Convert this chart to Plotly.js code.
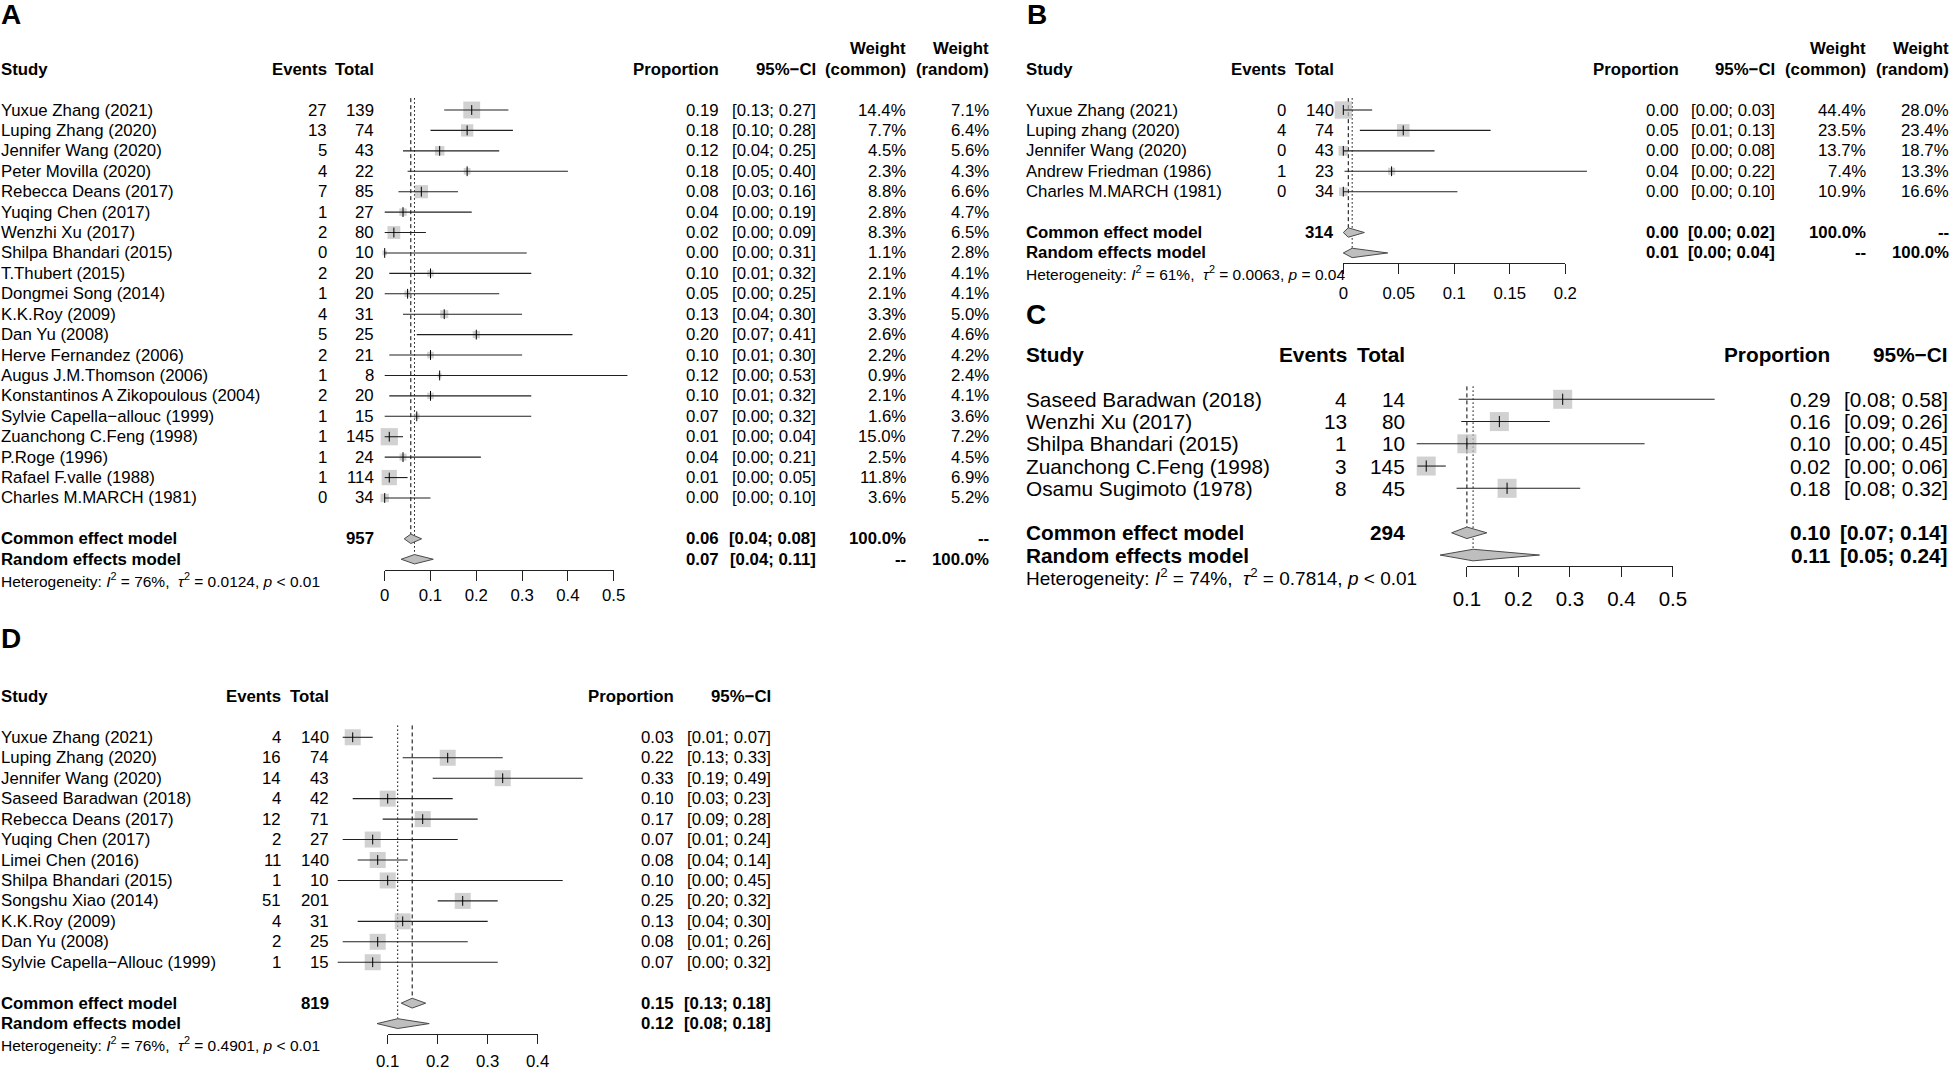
<!DOCTYPE html>
<html><head><meta charset="utf-8">
<script src="https://cdn.plot.ly/plotly-3.0.1.min.js"></script>
<style>html,body{margin:0;padding:0;background:#fff;} #chart{width:1949px;height:1071px;}</style>
</head><body><div id="chart"></div>
<script>
// ---------------- Panel A data ----------------
const studiesA = ["Yuxue Zhang (2021)","Luping Zhang (2020)","Jennifer Wang (2020)","Peter Movilla (2020)","Rebecca Deans (2017)","Yuqing Chen (2017)","Wenzhi Xu (2017)","Shilpa Bhandari (2015)","T.Thubert (2015)","Dongmei Song (2014)","K.K.Roy (2009)","Dan Yu (2008)","Herve Fernandez (2006)","Augus J.M.Thomson (2006)","Konstantinos A Zikopoulous (2004)","Sylvie Capella\u2212allouc (1999)","Zuanchong C.Feng (1998)","P.Roge (1996)","Rafael F.valle (1988)","Charles M.MARCH (1981)"];
const eventsA = [27,13,5,4,7,1,2,0,2,1,4,5,2,1,2,1,1,1,1,0];
const totalsA = [139,74,43,22,85,27,80,10,20,20,31,25,21,8,20,15,145,24,114,34];
const propA  = [0.19,0.18,0.12,0.18,0.08,0.04,0.02,0.00,0.10,0.05,0.13,0.20,0.10,0.12,0.10,0.07,0.01,0.04,0.01,0.00];
const lowerA = [0.13,0.10,0.04,0.05,0.03,0.00,0.00,0.00,0.01,0.00,0.04,0.07,0.01,0.00,0.01,0.00,0.00,0.00,0.00,0.00];
const upperA = [0.27,0.28,0.25,0.40,0.16,0.19,0.09,0.31,0.32,0.25,0.30,0.41,0.30,0.53,0.32,0.32,0.04,0.21,0.05,0.10];
const wCommonA = [14.4,7.7,4.5,2.3,8.8,2.8,8.3,1.1,2.1,2.1,3.3,2.6,2.2,0.9,2.1,1.6,15.0,2.5,11.8,3.6];
const wRandomA = [7.1,6.4,5.6,4.3,6.6,4.7,6.5,2.8,4.1,4.1,5.0,4.6,4.2,2.4,4.1,3.6,7.2,4.5,6.9,5.2];
const totalCommonA = 957;
const summaryEstA = [0.057, 0.065];     // common, random
const summaryLowerA = [0.0426, 0.036];
const summaryUpperA = [0.0806, 0.106];
const hetA = ["76%", "0.0124", "< 0.01"];
const ticksA = [0, 0.1, 0.2, 0.3, 0.4, 0.5];
const tickLabelsA = ["0","0.1","0.2","0.3","0.4","0.5"];

// ---------------- Panel B data ----------------
const studiesB = ["Yuxue Zhang (2021)","Luping zhang (2020)","Jennifer Wang (2020)","Andrew Friedman (1986)","Charles M.MARCH (1981)"];
const eventsB = [0,4,0,1,0];
const totalsB = [140,74,43,23,34];
const propB  = [0.000,0.054,0.000,0.0435,0.000];
const lowerB = [0.000,0.0149,0.000,0.0011,0.000];
const upperB = [0.026,0.1327,0.0822,0.2195,0.1028];
const wCommonB = [44.4,23.5,13.7,7.4,10.9];
const wRandomB = [28.0,23.4,18.7,13.3,16.6];
const totalCommonB = 314;
const summaryEstB = [0.0045, 0.008];
const summaryLowerB = [0.0, 0.0];
const summaryUpperB = [0.019, 0.04];
const hetB = ["61%", "0.0063", "= 0.04"];
const ticksB = [0, 0.05, 0.1, 0.15, 0.2];
const tickLabelsB = ["0","0.05","0.1","0.15","0.2"];

// ---------------- Panel C data ----------------
const studiesC = ["Saseed Baradwan (2018)","Wenzhi Xu (2017)","Shilpa Bhandari (2015)","Zuanchong C.Feng (1998)","Osamu Sugimoto (1978)"];
const eventsC = [4,13,1,3,8];
const totalsC = [14,80,10,145,45];
const propC  = [0.286,0.163,0.10,0.021,0.178];
const lowerC = [0.084,0.089,0.0025,0.004,0.080];
const upperC = [0.581,0.261,0.445,0.059,0.32];
const totalCommonC = 294;
const summaryEstC = [0.10, 0.112];
const summaryLowerC = [0.0703, 0.048];
const summaryUpperC = [0.1387, 0.241];
const hetC = ["74%", "0.7814", "< 0.01"];
const ticksC = [0.1, 0.2, 0.3, 0.4, 0.5];
const tickLabelsC = ["0.1","0.2","0.3","0.4","0.5"];

// ---------------- Panel D data ----------------
const studiesD = ["Yuxue Zhang (2021)","Luping Zhang (2020)","Jennifer Wang (2020)","Saseed Baradwan (2018)","Rebecca Deans (2017)","Yuqing Chen (2017)","Limei Chen (2016)","Shilpa Bhandari (2015)","Songshu Xiao (2014)","K.K.Roy (2009)","Dan Yu (2008)","Sylvie Capella\u2212Allouc (1999)"];
const eventsD = [4,16,14,4,12,2,11,1,51,4,2,1];
const totalsD = [140,74,43,42,71,27,140,10,201,31,25,15];
const propD  = [0.03,0.22,0.33,0.10,0.17,0.07,0.08,0.10,0.25,0.13,0.08,0.07];
const lowerD = [0.01,0.13,0.19,0.03,0.09,0.01,0.04,0.00,0.20,0.04,0.01,0.00];
const upperD = [0.07,0.33,0.49,0.23,0.28,0.24,0.14,0.45,0.32,0.30,0.26,0.32];
const totalCommonD = 819;
const summaryEstD = [0.149, 0.12];
const summaryLowerD = [0.127, 0.0786];
const summaryUpperD = [0.176, 0.183];
const hetD = ["76%", "0.4901", "< 0.01"];
const ticksD = [0.1, 0.2, 0.3, 0.4];
const tickLabelsD = ["0.1","0.2","0.3","0.4"];

// ---------------- rendering ----------------
const W = 1949, H = 1071;
const FONT = 'Liberation Sans, Arial, Helvetica, sans-serif';
const fmt2 = v => (Math.round(v * 100 + 1e-9) / 100).toFixed(2);
const fmtCI = (lo, hi) => '[' + fmt2(lo) + '; ' + fmt2(hi) + ']';
const fmtW = w => w.toFixed(1) + '%';
const axKey = id => id.charAt(0) + 'axis' + id.slice(1);

const panels = [
  { d: {studies:studiesA, events:eventsA, totals:totalsA, prop:propA, lower:lowerA, upper:upperA, wCommon:wCommonA, wRandom:wRandomA, totalCommon:totalCommonA, sumEst:summaryEstA, sumLo:summaryLowerA, sumHi:summaryUpperA, het:hetA, ticks:ticksA, tickLabels:tickLabelsA},
    L: {label:'A', labelX:0, labelY:15, x:'x', y:'y', xt:'x2', nameX:0, eventsR:328, totalR:375, propR:720, ciR:817, wcR:907, wrR:990,
        y0:110, dy:20.42, yTop:30, yBot:612, xDom:[372,640], x0:384.7, scale:458, axisY:570, tickLen:10, standoff:0,
        font:16.8, hetFont:15.5, tickFont:16.8, sq:w=>4.45*Math.sqrt(w), tick:7, dh:0.23} },
  { d: {studies:studiesB, events:eventsB, totals:totalsB, prop:propB, lower:lowerB, upper:upperB, wCommon:wCommonB, wRandom:wRandomB, totalCommon:totalCommonB, sumEst:summaryEstB, sumLo:summaryLowerB, sumHi:summaryUpperB, het:hetB, ticks:ticksB, tickLabels:tickLabelsB},
    L: {label:'B', labelX:1026, labelY:15, x:'x3', y:'y2', xt:'x4', nameX:1025, eventsR:1287, totalR:1335, propR:1680, ciR:1776, wcR:1867, wrR:1950,
        y0:110, dy:20.42, yTop:30, yBot:300, xDom:[1328,1600], x0:1343.3, scale:1110, axisY:262.7, tickLen:10, standoff:5,
        font:16.8, hetFont:15.5, tickFont:16.8, sq:w=>2.6*Math.sqrt(w), tick:7, dh:0.23} },
  { d: {studies:studiesC, events:eventsC, totals:totalsC, prop:propC, lower:lowerC, upper:upperC, totalCommon:totalCommonC, sumEst:summaryEstC, sumLo:summaryLowerC, sumHi:summaryUpperC, het:hetC, ticks:ticksC, tickLabels:tickLabelsC},
    L: {label:'C', labelX:1025, labelY:314, x:'x5', y:'y3', xt:'x6', nameX:1025, eventsR:1347.5, totalR:1406.4, propR:1830.5, ciR:1948.5,
        y0:399.3, dy:22.25, yTop:340, yBot:612, xDom:[1405,1725], x0:1415.4, scale:515, axisY:566, tickLen:10, standoff:4,
        font:20.8, hetFont:19, tickFont:20.5, sq:()=>19, tick:8, dh:0.26} },
  { d: {studies:studiesD, events:eventsD, totals:totalsD, prop:propD, lower:lowerD, upper:upperD, totalCommon:totalCommonD, sumEst:summaryEstD, sumLo:summaryLowerD, sumHi:summaryUpperD, het:hetD, ticks:ticksD, tickLabels:tickLabelsD},
    L: {label:'D', labelX:0, labelY:638, x:'x7', y:'y4', xt:'x8', nameX:0, eventsR:282.4, totalR:330, propR:675, ciR:771.7,
        y0:737.3, dy:20.45, yTop:680, yBot:1071, xDom:[325,600], x0:337.7, scale:500, axisY:1034, tickLen:9, standoff:3,
        font:16.8, hetFont:15.5, tickFont:16.8, sq:()=>16, tick:7, dh:0.24} }
];

const traces = [], anns = [];
const layout = {
  width: W, height: H, autosize: false,
  margin: {l:0, r:0, t:0, b:0, pad:0},
  paper_bgcolor: '#ffffff', plot_bgcolor: 'rgba(0,0,0,0)',
  font: {family: FONT, color: '#000'},
  showlegend: false, hovermode: false
};

function buildPanel(d, L) {
  const n = d.studies.length;
  const rows = d.studies.map((s, i) => i);
  const kc = n + 1, kr = n + 2, kh = n + 3;
  const refTop = -0.58;

  layout[axKey(L.x)] = {domain:[L.xDom[0]/W, L.xDom[1]/W], range:[(L.xDom[0]-L.x0)/L.scale, (L.xDom[1]-L.x0)/L.scale],
                        anchor:L.y, visible:false, fixedrange:true, showgrid:false, zeroline:false};
  layout[axKey(L.y)] = {domain:[1-L.yBot/H, 1-L.yTop/H], range:[(L.yBot-L.y0)/L.dy, (L.yTop-L.y0)/L.dy],
                        anchor:L.x, visible:false, fixedrange:true, showgrid:false, zeroline:false};
  const t0 = d.ticks[0], t1 = d.ticks[d.ticks.length-1];
  layout[axKey(L.xt)] = {domain:[(L.x0+t0*L.scale)/W, (L.x0+t1*L.scale)/W], range:[t0, t1],
    anchor:'free', position:1-L.axisY/H, side:'bottom', showline:true, linecolor:'#222', linewidth:1,
    ticks:'outside', ticklen:L.tickLen, tickwidth:1, tickcolor:'#222', tickmode:'array',
    tickvals:d.ticks, ticktext:d.tickLabels, tickfont:{family:FONT, size:L.tickFont, color:'#000'},
    ticklabelstandoff:L.standoff, showgrid:false, zeroline:false, fixedrange:true};

  const base = {type:'scatter', xaxis:L.x, yaxis:L.y, hoverinfo:'skip', showlegend:false};
  // reference lines (common: dashed, random: dotted)
  traces.push(Object.assign({}, base, {mode:'lines', x:[d.sumEst[0], d.sumEst[0]], y:[refTop, kc - L.dh],
    line:{color:'#000', width:1, dash:'4px,3px'}}));
  traces.push(Object.assign({}, base, {mode:'lines', x:[d.sumEst[1], d.sumEst[1]], y:[refTop, kr - L.dh],
    line:{color:'#000', width:1, dash:'1.5px,2.5px'}}));
  // squares
  const sizes = d.wCommon ? d.wCommon.map(L.sq) : d.prop.map(() => L.sq());
  traces.push(Object.assign({}, base, {mode:'markers', x:d.prop, y:rows, cliponaxis:false,
    marker:{symbol:'square', size:sizes, color:'#BEBEBE', line:{width:0}}}));
  // CI lines
  const cx = [], cy = [];
  d.lower.forEach((lo, i) => { cx.push(lo, d.upper[i], null); cy.push(i, i, null); });
  traces.push(Object.assign({}, base, {mode:'lines', x:cx, y:cy, line:{color:'#202020', width:1.1}}));
  // point estimate ticks
  traces.push(Object.assign({}, base, {mode:'markers', x:d.prop, y:rows, cliponaxis:false,
    marker:{symbol:'line-ns', size:L.tick, color:'#000', line:{color:'#000', width:1}}}));
  // diamonds
  [kc, kr].forEach((k, j) => {
    const e = d.sumEst[j], lo = d.sumLo[j], hi = d.sumHi[j];
    traces.push(Object.assign({}, base, {mode:'lines', x:[lo, e, hi, e, lo], y:[k, k-L.dh, k, k+L.dh, k],
      fill:'toself', fillcolor:'#BEBEBE', line:{color:'#4a4a4a', width:1}}));
  });
  // carrier trace for the tick axis
  traces.push({type:'scatter', mode:'markers', x:[t0], y:[0], xaxis:L.xt, yaxis:L.y,
    marker:{opacity:0, size:1}, hoverinfo:'skip', showlegend:false});

  // text
  const T = (text, xpx, k, anchor, size, bold) => anns.push({
    text: bold ? '<b>' + text + '</b>' : text, x: xpx / W, xref:'paper', y:k, yref:L.y,
    xanchor:anchor, yanchor:'middle', showarrow:false, borderpad:0,
    font:{family:FONT, size:size, color:'#000'}});
  const f = L.font;
  T('Study', L.nameX, -2, 'left', f, true);
  T('Events', L.eventsR, -2, 'right', f, true);
  T('Total', L.totalR, -2, 'right', f, true);
  T('Proportion', L.propR, -2, 'right', f, true);
  T('95%\u2212CI', L.ciR, -2, 'right', f, true);
  if (d.wCommon) {
    T('Weight', L.wcR, -3, 'right', f, true);
    T('(common)', L.wcR, -2, 'right', f, true);
    T('Weight', L.wrR, -3, 'right', f, true);
    T('(random)', L.wrR, -2, 'right', f, true);
  }
  d.studies.forEach((s, i) => {
    T(s, L.nameX, i, 'left', f, false);
    T(String(d.events[i]), L.eventsR, i, 'right', f, false);
    T(String(d.totals[i]), L.totalR, i, 'right', f, false);
    T(fmt2(d.prop[i]), L.propR, i, 'right', f, false);
    T(fmtCI(d.lower[i], d.upper[i]), L.ciR, i, 'right', f, false);
    if (d.wCommon) {
      T(fmtW(d.wCommon[i]), L.wcR, i, 'right', f, false);
      T(fmtW(d.wRandom[i]), L.wrR, i, 'right', f, false);
    }
  });
  T('Common effect model', L.nameX, kc, 'left', f, true);
  T(String(d.totalCommon), L.totalR, kc, 'right', f, true);
  T(fmt2(d.sumEst[0]), L.propR, kc, 'right', f, true);
  T(fmtCI(d.sumLo[0], d.sumHi[0]), L.ciR, kc, 'right', f, true);
  T('Random effects model', L.nameX, kr, 'left', f, true);
  T(fmt2(d.sumEst[1]), L.propR, kr, 'right', f, true);
  T(fmtCI(d.sumLo[1], d.sumHi[1]), L.ciR, kr, 'right', f, true);
  if (d.wCommon) {
    T('100.0%', L.wcR, kc, 'right', f, true);
    T('--', L.wrR, kc, 'right', f, true);
    T('--', L.wcR, kr, 'right', f, true);
    T('100.0%', L.wrR, kr, 'right', f, true);
  }
  T('Heterogeneity: <i>I</i><sup>2</sup> = ' + d.het[0] + ',  <i>\u03c4</i><sup>2</sup> = ' + d.het[1] +
    ', <i>p</i> ' + d.het[2].replace('<', '&lt;'), L.nameX, kh, 'left', L.hetFont, false);

  anns.push({text:'<b>' + L.label + '</b>', x:L.labelX / W, xref:'paper', y:1 - L.labelY / H, yref:'paper',
    xanchor:'left', yanchor:'middle', showarrow:false, borderpad:0, font:{family:FONT, size:28, color:'#000'}});
}

panels.forEach(p => buildPanel(p.d, p.L));
layout.annotations = anns;
Plotly.newPlot('chart', traces, layout, {staticPlot:true, displayModeBar:false});
</script>
</body></html>
